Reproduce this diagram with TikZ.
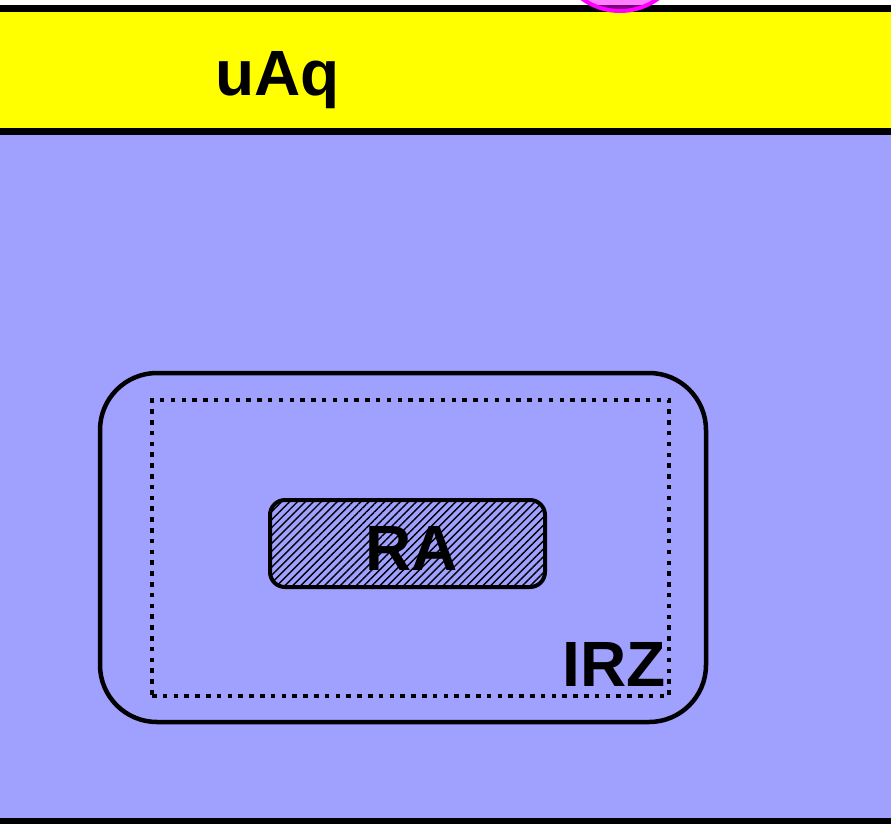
\documentclass[tikz,border=0pt]{standalone}
\usepackage{fontspec}
\setmainfont{Liberation Sans}
\usetikzlibrary{patterns.meta}
\definecolor{bandyellow}{HTML}{FFFF00}
\definecolor{bandblue}{HTML}{A0A0FF}
\definecolor{markmagenta}{HTML}{FF00FF}
\tikzset{
  band/.style={draw=black,line width=7pt},
  lbl/.style={font=\bfseries\fontsize{64}{64}\selectfont,inner sep=0pt,anchor=base},
  outerbox/.style={draw=black,line width=4.5pt,rounded corners=57pt,inner sep=0pt},
  dotbox/.style={draw=black,line width=4.5pt,dash pattern=on 4.5pt off 6.3pt,inner sep=0pt},
  hatchbox/.style={draw=black,line width=4pt,rounded corners=15pt,inner sep=0pt,
    pattern={Lines[angle=45,distance=5.6pt,line width=1.4pt]},pattern color=black},
  mark circle/.style={draw=markmagenta,line width=4pt,fill=markmagenta,fill opacity=0.5}
}
\begin{document}
\begin{tikzpicture}[x=1pt,y=-1pt]
\useasboundingbox (0,0) rectangle (891,823);
\clip (0,0) rectangle (891,823);
\fill[white] (0,0) rectangle (891,823);
% bands
\draw[band,fill=bandyellow] (-20,8) rectangle (911,131);
\draw[band,fill=bandblue] (-20,131) rectangle (911,821);
% magenta circle at top
\coordinate (mc) at (620,-53.5);
\draw[mark circle] (mc) circle[radius=64.5];
% labels and boxes
\node[lbl,anchor=base west] (uaq) at (215,95) {uAq};
\node[outerbox,minimum width=606pt,minimum height=349pt] (outer) at (403,547.5) {};
\node[dotbox,minimum width=517pt,minimum height=296pt] (irz) at (410.5,548) {};
\node[hatchbox,minimum width=275pt,minimum height=87pt] (rabox) at (407.5,543.5) {};
\node[lbl] (ra) at (412,570) {RA};
\node[lbl,anchor=base east] (irzlabel) at (666,686) {IRZ};
\end{tikzpicture}
\end{document}
